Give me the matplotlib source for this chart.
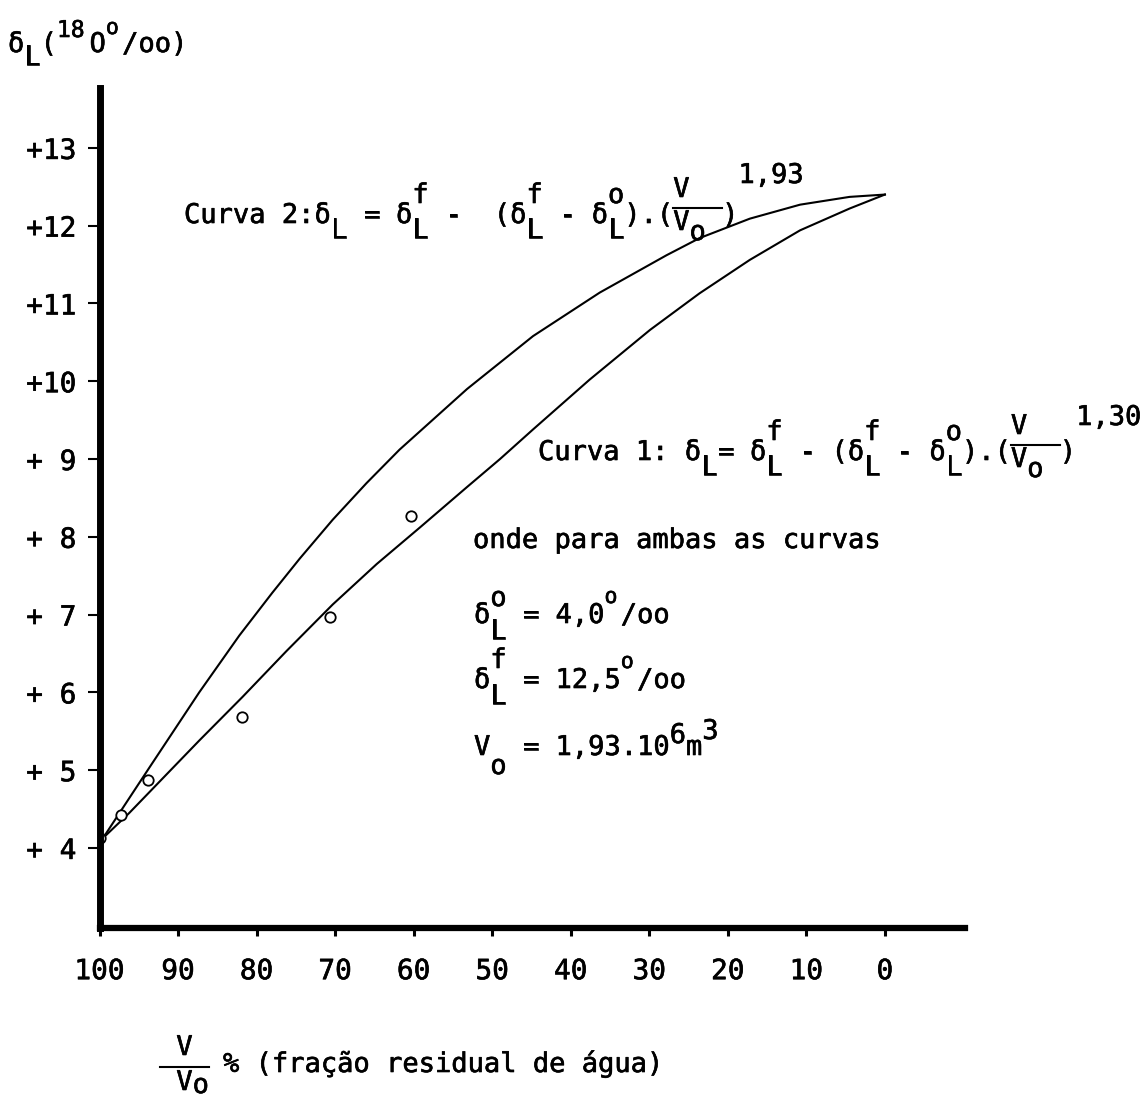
import matplotlib
matplotlib.use("Agg")
import matplotlib.pyplot as plt
import matplotlib.patheffects as pe
from matplotlib.lines import Line2D

# Residual water fraction V/Vo (%) and measured delta-18O of the water (per mil)
frac_obs = [100.0, 97.2, 93.8, 81.9, 70.6, 60.4]
delta_obs = [4.13, 4.42, 4.87, 5.68, 6.97, 8.27]

# Curva 2 (exponent 1,93)
frac_c2 = [99.2, 96.6, 93.6, 87.3, 82.2, 78.0, 74.5, 70.3, 66.0, 61.8,
           53.2, 44.8, 36.3, 27.8, 23.6, 17.2, 10.8, 4.5, 0.0]
delta_c2 = [4.18, 4.58, 5.04, 6.00, 6.73, 7.28, 7.72, 8.22, 8.69, 9.12,
            9.90, 10.58, 11.14, 11.62, 11.84, 12.09, 12.27, 12.37, 12.40]

# Curva 1 (exponent 1,30)
frac_c1 = [99.2, 96.2, 87.3, 81.8, 76.2, 70.3, 64.7, 59.2, 53.2, 49.0,
           44.8, 37.6, 29.9, 23.6, 17.2, 10.8, 4.5, 0.0]
delta_c1 = [4.16, 4.45, 5.38, 5.94, 6.53, 7.13, 7.65, 8.12, 8.64, 9.00,
            9.38, 10.02, 10.66, 11.13, 11.56, 11.94, 12.22, 12.40]

x_ticks = [100, 90, 80, 70, 60, 50, 40, 30, 20, 10, 0]
y_ticks = [4, 5, 6, 7, 8, 9, 10, 11, 12, 13]
y_ticklabels = ["+ 4", "+ 5", "+ 6", "+ 7", "+ 8", "+ 9", "+10", "+11", "+12", "+13"]

W, H = 1143, 1102
FONT = "DejaVu Sans Mono"
FS = 19.5
ADV = 0.6021 * FS * 100 / 72  # width of one typewriter column in pixels
INK = [pe.withStroke(linewidth=0.45, foreground="black")]

fig = plt.figure(figsize=(W / 100, H / 100), dpi=100)
ax = fig.add_axes([99.5 / W, (H - 928) / H, (965 - 99.5) / W, (928 - 88) / H])

ax.plot(frac_c2, delta_c2, color="black", lw=1.5)
ax.plot(frac_c1, delta_c1, color="black", lw=1.5)
ax.plot(frac_obs, delta_obs, linestyle="none", marker="o", markersize=7.5,
        markerfacecolor="white", markeredgecolor="black", markeredgewidth=1.3)

ax.set_xlim(100, -10.2)
ax.set_ylim(2.97, 13.77)
ax.set_xticks(x_ticks)
ax.set_xticklabels([str(v) for v in x_ticks])
ax.set_yticks(y_ticks)
ax.set_yticklabels(y_ticklabels)
for lab in ax.get_xticklabels() + ax.get_yticklabels():
    lab.set_fontfamily(FONT)
    lab.set_fontsize(20)
    lab.set_path_effects(INK)

ax.spines["top"].set_visible(False)
ax.spines["right"].set_visible(False)
ax.spines["left"].set_linewidth(5)
ax.spines["bottom"].set_linewidth(4.5)
ax.tick_params(axis="x", direction="out", length=6, width=2.2, pad=15)
ax.tick_params(axis="y", direction="out", length=8.6, width=1.5, pad=8)
ax.patch.set_visible(False)


def typed(x0, base, pieces):
    """Typewriter-style text: each piece sits on a column, raised or lowered in pixels."""
    for piece in pieces:
        col, rise, s = piece[:3]
        scale = piece[3] if len(piece) > 3 else 1.0
        fig.text((x0 + col * ADV) / W, (H - base + rise) / H, s,
                 fontfamily=FONT, fontsize=FS * scale, va="baseline", ha="left",
                 path_effects=INK)


def bar(x0, col_a, col_b, base, rise):
    y = (H - base + rise) / H
    fig.add_artist(Line2D([(x0 + col_a * ADV) / W, (x0 + col_b * ADV) / W], [y, y],
                          color="black", lw=1.5, transform=fig.transFigure))


# axis title
typed(8, 52, [(0, 0, "δ"), (1, -13, "L"), (2, 0, "("), (3, 15, "18", 0.85),
              (5, 0, "O"), (6, 18, "o", 0.8), (7, 0, "/oo)")])

# Curva 2
x2, b2 = 184, 223
typed(x2, b2, [(0, 0, "Curva"), (6, 0, "2:δ"), (9, -15, "L"), (11, 0, "="),
               (13, 0, "δ"), (14, 20, "f"), (14, -15, "L"), (16, 0, "-"),
               (19, 0, "(δ"), (21, 20, "f"), (21, -15, "L"), (23, 0, "-"),
               (25, 0, "δ"), (26, 20, "o"), (26, -15, "L"), (27, 0, ").("),
               (30, 26, "V"), (30, -7, "V"), (31, -17, "o"), (33, 0, ")"),
               (34, 40, "1,93")])
bar(x2, 30, 33, b2, 15)

# Curva 1
x1, b1 = 538, 460
typed(x1, b1, [(0, 0, "Curva"), (6, 0, "1:"), (9, 0, "δ"), (10, -15, "L"),
               (11, 0, "="), (13, 0, "δ"), (14, 20, "f"), (14, -15, "L"),
               (16, 0, "-"), (18, 0, "(δ"), (20, 20, "f"), (20, -15, "L"),
               (22, 0, "-"), (24, 0, "δ"), (25, 20, "o"), (25, -15, "L"),
               (26, 0, ").("), (29, 26, "V"), (29, -7, "V"), (30, -17, "o"),
               (32, 0, ")"), (33, 35, "1,30")])
bar(x1, 29, 32, b1, 15)

# constants common to both curves
typed(473, 548, [(0, 0, "onde"), (5, 0, "para"), (10, 0, "ambas"), (16, 0, "as"),
                 (19, 0, "curvas")])
typed(474, 623, [(0, 0, "δ"), (1, 17, "o"), (1, -16, "L"), (3, 0, "="),
                 (5, 0, "4,0"), (8, 20, "o", 0.8), (9, 0, "/oo")])
typed(474, 688, [(0, 0, "δ"), (1, 20, "f"), (1, -16, "L"), (3, 0, "="),
                 (5, 0, "12,5"), (9, 20, "o", 0.8), (10, 0, "/oo")])
typed(474, 755, [(0, 0, "V"), (1, -19, "o"), (3, 0, "="), (5, 0, "1,93.10"),
                 (12, 12, "6"), (13, 0, "m"), (14, 16, "3")])

# x-axis title
typed(223, 1072, [(0, 0, "%"), (2, 0, "(fração"), (10, 0, "residual"),
                  (19, 0, "de"), (22, 0, "água)")])
typed(160, 1072, [(1, 17, "V"), (1, -18, "V"), (2, -21, "o")])
bar(160, 0, 3, 1072, 5)

fig.savefig("out.png", dpi=100)
